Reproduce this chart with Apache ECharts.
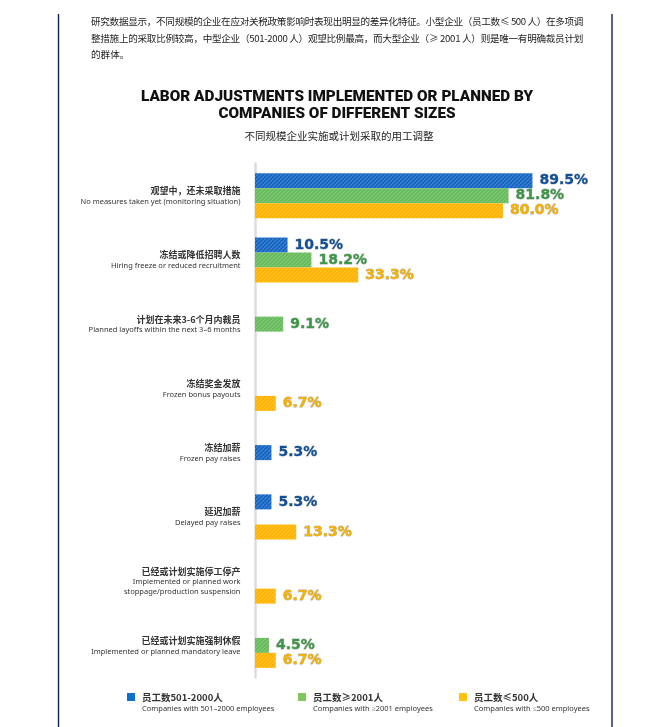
<!DOCTYPE html>
<html>
<head>
<meta charset="utf-8">
<script src="https://cdn.jsdelivr.net/npm/echarts@6/dist/echarts.min.js"></script>
<style>
  html, body { margin: 0; padding: 0; background: #fff; }
  #wrap { position: relative; width: 670px; height: 727px; overflow: hidden; }
  #chart { position: absolute; left: 0; top: 0; width: 670px; height: 727px; }
  .para { position: absolute; left: 91px; width: 492px; height: 16px; line-height: 16px;
          font-family: "Noto Sans CJK SC", sans-serif; font-size: 9.6px; color: #222;
          white-space: nowrap; z-index: 2; }
  .just { text-align: justify; text-align-last: justify; }
</style>
</head>
<body>
<div id="wrap">
  <div id="chart"></div>
  <div class="para just" style="top:13px;letter-spacing:-0.45px">研究数据显示，不同规模的企业在应对关税政策影响时表现出明显的差异化特征。小型企业（员工数≤ 500 人）在多项调</div>
  <div class="para just" style="top:30px;letter-spacing:-0.3px">整措施上的采取比例较高，中型企业（501-2000 人）观望比例最高，而大型企业（≥ 2001 人）则是唯一有明确裁员计划</div>
  <div class="para" style="top:46px">的群体。</div>
</div>
<script>
// ---------------- data ----------------
const categoriesCn = ['观望中，还未采取措施', '冻结或降低招聘人数', '计划在未来3-6个月内裁员', '冻结奖金发放',
  '冻结加薪', '延迟加薪', '已经或计划实施停工停产', '已经或计划实施强制休假'];
const categoriesEn = ['No measures taken yet (monitoring situation)', 'Hiring freeze or reduced recruitment',
  'Planned layoffs within the next 3–6 months', 'Frozen bonus payouts', 'Frozen pay raises', 'Delayed pay raises',
  'Implemented or planned work\nstoppage/production suspension', 'Implemented or planned mandatory leave'];
const seriesNamesCn = ['员工数501-2000人', '员工数≥2001人', '员工数≤500人'];
const seriesNamesEn = ['Companies with 501–2000 employees', 'Companies with ≥2001 employees', 'Companies with ≤500 employees'];
const midValues   = [89.5, 10.5, null, null, 5.3, 5.3, null, null];   // 501-2000
const largeValues = [81.8, 18.2, 9.1, null, null, null, null, 4.5];   // >=2001
const smallValues = [80.0, 33.3, null, 6.7, null, 13.3, 6.7, 6.7];    // <=500
const soloCenteredIndex = 4; // this category's single bar sits centred in the reference

// ---------------- styles ----------------
const barColors = ['#1565c4', '#66bb5a', '#ffb300'];
const labelColors = ['#0f4f99', '#3a9844', '#f7b200'];
const legendColors = ['#0d6ecd', '#7dc75e', '#ffc20e'];

function hatch(base) {
  const c = document.createElement('canvas');
  c.width = 4; c.height = 4;
  const g = c.getContext('2d');
  g.fillStyle = base; g.fillRect(0, 0, 4, 4);
  g.strokeStyle = 'rgba(255,255,255,0.2)';
  g.lineWidth = 1.1;
  g.beginPath();
  for (let k = -4; k <= 4; k += 4) { g.moveTo(k, 4); g.lineTo(k + 4, 0); }
  g.stroke();
  return c;
}

const catLabels = categoriesCn.map((cn, i) =>
  '{cn|' + cn + '}\n' + categoriesEn[i].split('\n').map(s => '{en|' + s + '}').join('\n'));

function barSeries(name, values, idx, yAxisIndex) {
  return {
    name: name, type: 'bar', data: values, yAxisIndex: yAxisIndex,
    barWidth: 15, barGap: '0%', barCategoryGap: 0,
    itemStyle: { color: { image: hatch(barColors[idx]), repeat: 'repeat' } },
    label: {
      show: true, position: 'right', distance: 7,
      formatter: p => (p.value == null ? '' : p.value.toFixed(1) + '%'),
      color: labelColors[idx], fontFamily: '"DejaVu Sans"', fontWeight: 'bold', fontSize: 14,
      textBorderColor: 'rgba(0,0,0,0.35)', textBorderWidth: 0.8
    },
    emphasis: { disabled: true }, animation: false
  };
}

const midInGroup = midValues.map((v, i) => i === soloCenteredIndex ? null : v);
const midSolo = midValues.map((v, i) => i === soloCenteredIndex ? v : null);

const legendX = [127, 298, 459];
const graphics = [
  { type: 'line', shape: { x1: 58.5, y1: 14, x2: 58.5, y2: 727 }, style: { stroke: '#0f1f5e', lineWidth: 1.4 } },
  { type: 'line', shape: { x1: 612, y1: 14, x2: 612, y2: 727 }, style: { stroke: '#0f1f5e', lineWidth: 1.4 } },
  { type: 'text', style: { text: 'LABOR ADJUSTMENTS IMPLEMENTED OR PLANNED BY', x: 337, y: 97,
      textAlign: 'center', textVerticalAlign: 'middle', font: '900 15.3px Roboto', fill: '#111' } },
  { type: 'text', style: { text: 'COMPANIES OF DIFFERENT SIZES', x: 337, y: 114,
      textAlign: 'center', textVerticalAlign: 'middle', font: '900 15.3px Roboto', fill: '#111' } },
  { type: 'text', style: { text: '不同规模企业实施或计划采取的用工调整', x: 339, y: 136,
      textAlign: 'center', textVerticalAlign: 'middle', font: '10.5px "Noto Sans CJK SC"', fill: '#222' } }
];
legendX.forEach((x, i) => {
  graphics.push({ type: 'rect', shape: { x: x, y: 693, width: 8, height: 8 }, style: { fill: legendColors[i] } });
  graphics.push({ type: 'text', style: { text: seriesNamesCn[i], x: x + 15, y: 697.5, textVerticalAlign: 'middle',
      font: 'bold 9.5px "Noto Sans CJK SC"', fill: '#333' } });
  graphics.push({ type: 'text', style: { text: seriesNamesEn[i], x: x + 15, y: 709, textVerticalAlign: 'middle',
      font: '7.5px "Noto Sans"', fill: '#333' } });
});

const chart = echarts.init(document.getElementById('chart'));
chart.setOption({
  animation: false,
  grid: { left: 255, top: 163.5, width: 310, height: 514, containLabel: false },
  xAxis: { type: 'value', min: 0, max: 100, show: false },
  yAxis: [
    {
      type: 'category', data: catLabels, inverse: true, offset: 1.5,
      axisLine: { show: true, lineStyle: { color: '#dcdcdc', width: 2.5 } },
      axisTick: { show: false }, splitLine: { show: false },
      axisLabel: {
        margin: 13, align: 'right',
        rich: {
          cn: { fontFamily: '"Noto Sans CJK SC"', fontWeight: 'bold', fontSize: 9, color: '#333', lineHeight: 12, align: 'right' },
          en: { fontFamily: '"Noto Sans"', fontSize: 7.5, color: '#333', lineHeight: 10, align: 'right' }
        }
      }
    },
    { type: 'category', data: catLabels, inverse: true, show: false }
  ],
  series: [
    barSeries(seriesNamesCn[0], midInGroup, 0, 0),
    barSeries(seriesNamesCn[1], largeValues, 1, 0),
    barSeries(seriesNamesCn[2], smallValues, 2, 0),
    barSeries(seriesNamesCn[0] + ' ', midSolo, 0, 1)
  ],
  graphic: graphics
});
</script>
</body>
</html>
